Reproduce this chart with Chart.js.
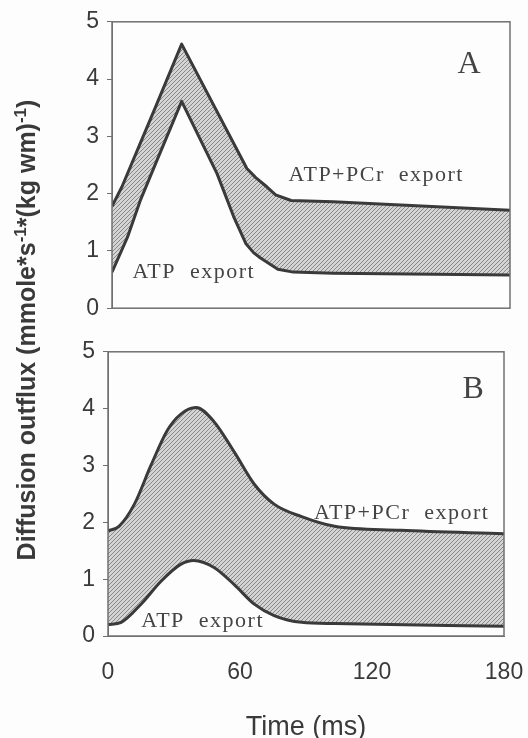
<!DOCTYPE html>
<html>
<head>
<meta charset="utf-8">
<script src="https://cdn.jsdelivr.net/npm/chart.js@4.4.1/dist/chart.umd.min.js"></script>
<style>
  html, body { margin: 0; padding: 0; background: #fdfdfd; }
  #wrap { position: relative; width: 528px; height: 738px; overflow: hidden; }
  canvas { position: absolute; left: 0; }
  #chartA { top: 0; }
  #chartB { top: 330px; }
  #ytitle {
    position: absolute; left: -234px; top: 316px; width: 520px; height: 28px;
    line-height: 28px; text-align: center; white-space: nowrap;
    transform: rotate(-90deg); transform-origin: 50% 50%;
    font: bold 25px "Liberation Sans", Arial, sans-serif; color: #3a3a3a;
  }
  #ytitle sup { font-size: 17px; line-height: 0; vertical-align: 9px; }
</style>
</head>
<body>
<div id="wrap">
  <canvas id="chartA" width="528" height="330"></canvas>
  <canvas id="chartB" width="528" height="416"></canvas>
  <div id="ytitle">Diffusion outflux (mmole*s<sup>-1</sup>*(kg wm)<sup>-1</sup>)</div>
</div>
<script>
// panel A - ATP+PCr export (upper) and ATP export (lower)
const timeUpperA = [0, 4.5, 13, 19, 31.5, 61, 65, 70, 74, 81, 100, 180];
const fluxUpperA = [1.78, 2.12, 2.9, 3.45, 4.61, 2.44, 2.28, 2.12, 1.98, 1.88, 1.86, 1.71];
const timeLowerA = [0, 7, 13, 20, 31.5, 47.5, 55, 60.5, 64, 67, 75, 82, 100, 180];
const fluxLowerA = [0.63, 1.24, 1.9, 2.55, 3.61, 2.35, 1.6, 1.13, 0.97, 0.88, 0.68, 0.63, 0.61, 0.58];

// panel B
const timeUpperB = [0, 5, 12, 19.5, 27, 33, 40, 48, 57.5, 66.5, 75.5, 88, 103, 133, 180];
const fluxUpperB = [1.85, 1.93, 2.32, 3.0, 3.62, 3.9, 4.02, 3.78, 3.23, 2.67, 2.32, 2.1, 1.93, 1.86, 1.8];
const timeLowerB = [0, 6, 15, 24, 33, 39, 48, 57.5, 66.5, 75.5, 88, 103, 180];
const fluxLowerB = [0.2, 0.24, 0.56, 0.96, 1.26, 1.33, 1.21, 0.9, 0.56, 0.36, 0.24, 0.22, 0.17];

const xTicks = [0, 60, 120, 180];
const yTicks = [0, 1, 2, 3, 4, 5];

const ink = '#3a3a3a';
const sans = '"Liberation Sans", Arial, sans-serif';
const serif = '"Liberation Serif", "Times New Roman", serif';

function pts(xs, ys) {
  return xs.map((x, i) => ({ x: x, y: ys[i] }));
}

// diagonal hatch for the band between the two curves
function hatch() {
  const c = document.createElement('canvas');
  c.width = 4; c.height = 4;
  const g = c.getContext('2d');
  g.fillStyle = '#d4d4d4';
  g.fillRect(0, 0, 4, 4);
  g.strokeStyle = '#888';
  g.lineWidth = 1;
  g.beginPath();
  g.moveTo(-1, 5); g.lineTo(5, -1);
  g.moveTo(-1, 1); g.lineTo(1, -1);
  g.moveTo(3, 5); g.lineTo(5, 3);
  g.stroke();
  return g.createPattern(c, 'repeat');
}

const framePlugin = {
  id: 'frame',
  afterDatasetsDraw(chart) {
    const a = chart.chartArea, ctx = chart.ctx;
    ctx.save();
    ctx.strokeStyle = '#707070';
    ctx.lineWidth = 1.5;
    ctx.strokeRect(a.left, a.top, a.right - a.left, a.bottom - a.top);
    ctx.restore();
  }
};

const notesPlugin = {
  id: 'notes',
  afterDraw(chart, args, opts) {
    const ctx = chart.ctx, xs = chart.scales.x, ys = chart.scales.y;
    ctx.save();
    ctx.fillStyle = '#444';
    ctx.textAlign = 'center';
    ctx.textBaseline = 'middle';
    (opts.items || []).forEach(n => {
      ctx.font = n.size + 'px ' + serif;
      ctx.letterSpacing = (n.spacing || 0) + 'px';
      ctx.fillText(n.text, xs.getPixelForValue(n.x), ys.getPixelForValue(n.y));
    });
    ctx.restore();
  }
};

function makeChart(id, d, o) {
  const pattern = hatch();
  return new Chart(document.getElementById(id), {
    type: 'line',
    data: {
      datasets: [
        { label: 'ATP+PCr export', data: pts(d.tu, d.fu), fill: false },
        { label: 'ATP export', data: pts(d.tl, d.fl), fill: '-1', backgroundColor: pattern }
      ]
    },
    options: {
      responsive: false,
      animation: false,
      layout: { padding: o.padding },
      elements: {
        point: { radius: 0 },
        line: {
          borderColor: ink, borderWidth: 3, borderJoinStyle: 'round',
          tension: o.smooth ? 0.4 : 0, cubicInterpolationMode: o.smooth ? 'monotone' : 'default'
        }
      },
      plugins: {
        legend: { display: false },
        tooltip: { enabled: false },
        filler: { drawTime: 'beforeDatasetsDraw' },
        notes: { items: o.notes }
      },
      scales: {
        x: {
          type: 'linear', min: 0, max: 180,
          display: o.showX,
          afterBuildTicks: s => { s.ticks = xTicks.map(v => ({ value: v })); },
          grid: { drawOnChartArea: false, drawTicks: true, tickLength: 21, tickColor: 'rgba(0,0,0,0)' },
          border: { display: true, color: '#707070' },
          ticks: { padding: 2, color: ink, font: { family: sans, size: 23 } },
          title: {
            display: true, text: 'Time (ms)', color: ink,
            font: { family: sans, size: 27 }, padding: { top: 0, bottom: 2 }
          },
          afterFit: s => { s.height = o.xHeight; }
        },
        y: {
          type: 'linear', min: 0, max: 5,
          ticks: {
            stepSize: 0.5, padding: 8, color: ink,
            font: { family: sans, size: 23 },
            callback: v => yTicks.includes(v) ? v : ''
          },
          grid: { drawOnChartArea: false, tickLength: 5, color: '#707070' },
          border: { display: true, color: '#707070' },
          afterFit: s => { s.width = o.yWidth; }
        }
      }
    },
    plugins: [framePlugin, notesPlugin]
  });
}

makeChart('chartA',
  { tu: timeUpperA, fu: fluxUpperA, tl: timeLowerA, fl: fluxLowerA },
  {
    smooth: false, showX: false, yWidth: 112, xHeight: 0,
    padding: { top: 19, right: 18, bottom: 19, left: 0 },
    notes: [
      { text: 'A', x: 161.5, y: 4.26, size: 32 },
      { text: 'ATP+PCr  export', x: 119.5, y: 2.33, size: 22, spacing: 1.5 },
      { text: 'ATP  export', x: 37, y: 0.62, size: 22, spacing: 1.5 }
    ]
  });

makeChart('chartB',
  { tu: timeUpperB, fu: fluxUpperB, tl: timeLowerB, fl: fluxLowerB },
  {
    smooth: true, showX: true, yWidth: 108, xHeight: 110,
    padding: { top: 14, right: 24, bottom: 0, left: 0 },
    notes: [
      { text: 'B', x: 166, y: 4.33, size: 32 },
      { text: 'ATP+PCr  export', x: 133.5, y: 2.16, size: 22, spacing: 1.5 },
      { text: 'ATP  export', x: 43, y: 0.26, size: 22, spacing: 1.5 }
    ]
  });
</script>
</body>
</html>
